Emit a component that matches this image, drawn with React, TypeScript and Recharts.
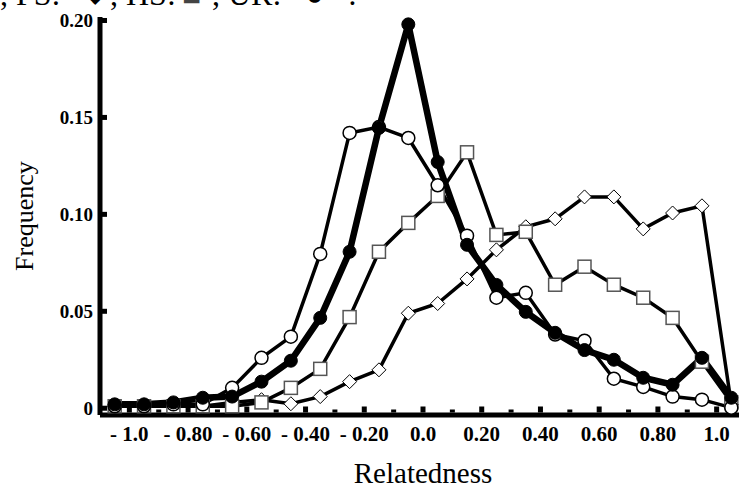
import { LineChart, Line, XAxis, YAxis } from "recharts";

const relatedness = [
  -1.05, -0.95, -0.85, -0.75, -0.65, -0.55, -0.45, -0.35, -0.25, -0.15, -0.05,
  0.05, 0.15, 0.25, 0.35, 0.45, 0.55, 0.65, 0.75, 0.85, 0.95, 1.05,
];

// full sibs (diamonds)
const fsValues = [
  0.001, 0.001, 0.001, 0.001, 0.003, 0.0044, 0.0023, 0.006, 0.0137, 0.0198, 0.049,
  0.054, 0.0667, 0.0817, 0.0936, 0.0977, 0.109, 0.109, 0.0925, 0.1007, 0.1044, 0.002,
];

// half sibs (squares)
const hsValues = [
  0.001, 0.001, 0.001, 0.001, 0.001, 0.003, 0.0105, 0.0203, 0.047, 0.0807, 0.0956,
  0.1095, 0.132, 0.0894, 0.091, 0.0637, 0.073, 0.0637, 0.057, 0.0466, 0.024, 0.003,
];

// unrelated (open circles)
const urValues = [
  0.001, 0.001, 0.002, 0.002, 0.0105, 0.026, 0.0369, 0.0796, 0.142, 0.145, 0.1394,
  0.115, 0.089, 0.057, 0.0595, 0.038, 0.0348, 0.0152, 0.011, 0.006, 0.0044, 0.0003,
];

// all pairs (filled circles, heavy line)
const allValues = [
  0.002, 0.002, 0.003, 0.0054, 0.006, 0.0137, 0.0245, 0.0466, 0.0807, 0.1446, 0.198,
  0.127, 0.0843, 0.0636, 0.0497, 0.0389, 0.03, 0.025, 0.0157, 0.0121, 0.026, 0.0054,
];

const majorTicks = [-1.0, -0.8, -0.6, -0.4, -0.2, 0.0, 0.2, 0.4, 0.6, 0.8, 1.0];
const majorLabels = ["- 1.0", "- 0.80", "- 0.60", "- 0.40", "- 0.20", "0.0", "0.20", "0.40", "0.60", "0.80", "1.0"];
const minorTicks = [-0.9, -0.7, -0.5, -0.3, -0.1, 0.1, 0.3, 0.5, 0.7, 0.9];
const yTicks = [0, 0.05, 0.1, 0.15, 0.2];
const yLabels = ["0", "0.05", "0.10", "0.15", "0.20"];

const data = relatedness.map((r, i) => ({
  r,
  fs: fsValues[i],
  hs: hsValues[i],
  ur: urValues[i],
  all: allValues[i],
}));

const serif = "'Liberation Serif', 'Times New Roman', serif";

function XTick(props: any) {
  const { x, y, payload } = props;
  const idx = majorTicks.indexOf(payload.value);
  const h = idx >= 0 ? 6 : 3;
  return (
    <g>
      <rect x={x - 2.5} y={y - 2.5 - h} width={5} height={h} fill="#000" />
      {idx >= 0 && (
        <text
          x={x}
          y={y + 26}
          textAnchor="middle"
          fontFamily={serif}
          fontWeight="bold"
          fontSize={21}
          fill="#000"
        >
          {majorLabels[idx]}
        </text>
      )}
    </g>
  );
}

function YTick(props: any) {
  const { x, y, payload } = props;
  const idx = yTicks.indexOf(payload.value);
  return (
    <g>
      <rect x={x + 2} y={y - 2.5} width={5} height={5} fill="#000" />
      <text
        x={x - 7}
        y={y}
        dy="0.35em"
        textAnchor="end"
        fontFamily={serif}
        fontWeight="bold"
        fontSize={19}
        fill="#000"
      >
        {yLabels[idx]}
      </text>
    </g>
  );
}

const squareDot = (props: any) => {
  const { cx, cy, index } = props;
  return (
    <rect
      key={`sq-${index}`}
      x={cx - 6.5}
      y={cy - 6.5}
      width={13}
      height={13}
      fill="#fff"
      stroke="#555"
      strokeWidth={1.5}
    />
  );
};

const diamondDot = (props: any) => {
  const { cx, cy, index } = props;
  const s = 7;
  return (
    <path
      key={`dm-${index}`}
      d={`M${cx},${cy - s} L${cx + s},${cy} L${cx},${cy + s} L${cx - s},${cy} Z`}
      fill="#fff"
      stroke="#000"
      strokeWidth={1}
    />
  );
};

export default function App() {
  return (
    <div
      style={{
        position: "fixed",
        left: 0,
        top: 0,
        width: 739,
        height: 486,
        overflow: "hidden",
        background: "#fff",
      }}
    >
      <div
        style={{
          position: "absolute",
          left: 0,
          top: -22,
          fontFamily: serif,
          fontSize: 32,
          lineHeight: "32px",
          whiteSpace: "nowrap",
          color: "#000",
        }}
      >
        <span style={{ position: "absolute", left: 0 }}>, FS:</span>
        <span style={{ position: "absolute", left: 86, fontSize: 24 }}>◆</span>
        <span style={{ position: "absolute", left: 110 }}>, HS:</span>
        <span style={{ position: "absolute", left: 182, color: "#444" }}>■</span>
        <span style={{ position: "absolute", left: 212 }}>, UR:</span>
        <span style={{ position: "absolute", left: 305 }}>●</span>
        <span style={{ position: "absolute", left: 348 }}>:</span>
      </div>
      <div style={{ position: "absolute", left: 0, top: 0 }}>
        <LineChart
          width={760}
          height={486}
          data={data}
          margin={{ top: 17, right: 14, bottom: 0, left: 0 }}
        >
          <XAxis
            dataKey="r"
            type="number"
            domain={[-1.1, 1.1]}
            ticks={[...majorTicks, ...minorTicks]}
            interval={0}
            tickSize={0}
            tickMargin={0}
            tickLine={false}
            tick={<XTick />}
            axisLine={{ stroke: "#000", strokeWidth: 5 }}
            height={71}
            allowDataOverflow
            label={{
              value: "Relatedness",
              position: "insideBottom",
              offset: 3,
              fontFamily: serif,
              fontSize: 29,
              fill: "#000",
            }}
          />
          <XAxis
            xAxisId="top"
            orientation="top"
            type="number"
            domain={[-1.1, 1.1]}
            height={0}
            tick={false}
            tickLine={false}
            axisLine={{ stroke: "#000", strokeWidth: 5 }}
          />
          <YAxis
            type="number"
            domain={[-0.0035, 0.2018]}
            ticks={yTicks}
            interval={0}
            width={100}
            tickSize={0}
            tickMargin={0}
            tickLine={false}
            tick={<YTick />}
            axisLine={{ stroke: "#000", strokeWidth: 5 }}
            allowDataOverflow
            label={{
              value: "Frequency",
              angle: -90,
              position: "insideLeft",
              offset: 24,
              style: { textAnchor: "middle" },
              fontFamily: serif,
              fontSize: 26,
              fill: "#000",
            }}
          />
          <Line
            dataKey="fs"
            stroke="#000"
            strokeWidth={3.5}
            dot={diamondDot}
            isAnimationActive={false}
          />
          <Line
            dataKey="hs"
            stroke="#000"
            strokeWidth={3.5}
            dot={squareDot}
            isAnimationActive={false}
          />
          <Line
            dataKey="ur"
            stroke="#000"
            strokeWidth={3.5}
            dot={{ r: 6.5, fill: "#fff", stroke: "#000", strokeWidth: 1.5 }}
            isAnimationActive={false}
          />
          <Line
            dataKey="all"
            stroke="#000"
            strokeWidth={6.5}
            dot={{ r: 6.5, fill: "#000", stroke: "#000", strokeWidth: 1 }}
            isAnimationActive={false}
          />
        </LineChart>
      </div>
    </div>
  );
}
